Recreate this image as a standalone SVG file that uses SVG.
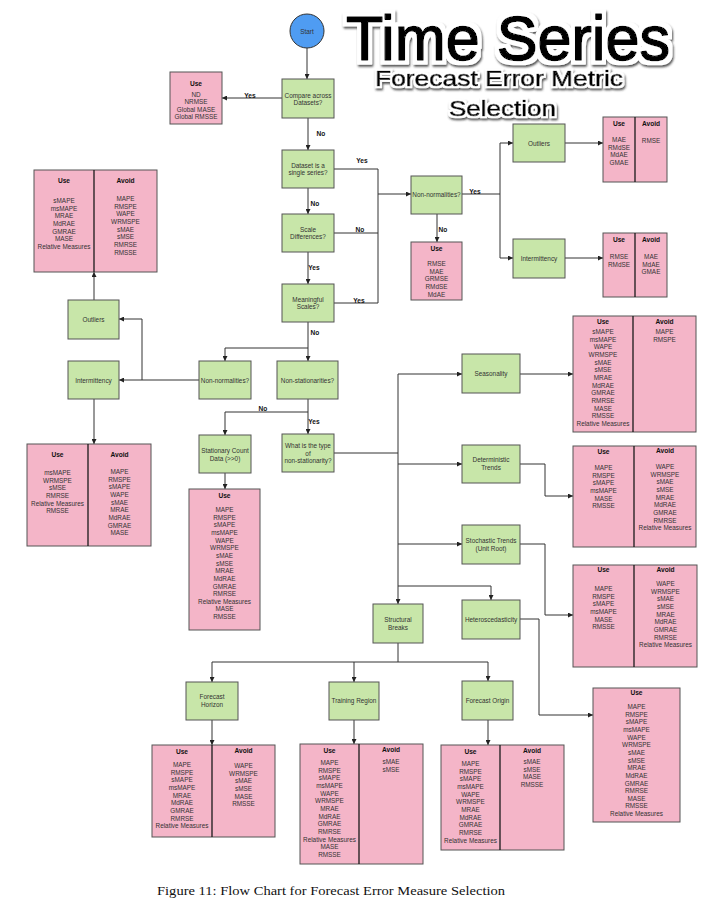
<svg xmlns="http://www.w3.org/2000/svg" width="714" height="904" viewBox="0 0 714 904">
<style>
text{font-family:"Liberation Sans",Arial,sans-serif}
.n{fill:#c8e6a9;stroke:#555;stroke-width:1}
.p{fill:#f4b5c8;stroke:#555;stroke-width:1}
.d{stroke:#1a1a1a;stroke-width:1.3}
.t{font-size:6.4px;fill:#333;text-anchor:middle;dominant-baseline:central}
.h{font-size:6.6px;font-weight:bold;fill:#111;text-anchor:middle;dominant-baseline:central}
.l{font-size:6.6px;font-weight:bold;fill:#111;text-anchor:middle;dominant-baseline:central}
.c path{fill:none;stroke:#333;stroke-width:1}
.a{marker-end:url(#ar)}
.tb{fill:#000;stroke:#000;stroke-width:1.6;stroke-linejoin:round}
.cap{font-family:"Liberation Serif","DejaVu Serif",serif;font-size:11.5px;fill:#111}
</style>
<defs>
<marker id="ar" markerWidth="6" markerHeight="5" refX="5" refY="2.5" orient="auto" markerUnits="userSpaceOnUse">
<path d="M0,0 L5,2.5 L0,5 Z" fill="#222"/>
</marker>
<filter id="ol" x="-10%" y="-30%" width="120%" height="170%">
<feMorphology in="SourceAlpha" operator="dilate" radius="3.5" result="d"/>
<feGaussianBlur in="d" stdDeviation="1.3" result="b"/>
<feOffset in="b" dx="1" dy="2" result="o"/>
<feFlood flood-color="#333" flood-opacity="0.85"/>
<feComposite in2="o" operator="in" result="s"/>
<feFlood flood-color="#fff"/>
<feComposite in2="d" operator="in" result="w"/>
<feMerge><feMergeNode in="s"/><feMergeNode in="w"/><feMergeNode in="SourceGraphic"/></feMerge>
</filter>
<filter id="ol2" x="-10%" y="-40%" width="120%" height="190%">
<feMorphology in="SourceAlpha" operator="dilate" radius="2.4" result="d"/>
<feGaussianBlur in="d" stdDeviation="1" result="b"/>
<feOffset in="b" dx="0.8" dy="1.5" result="o"/>
<feFlood flood-color="#333" flood-opacity="0.85"/>
<feComposite in2="o" operator="in" result="s"/>
<feFlood flood-color="#fff"/>
<feComposite in2="d" operator="in" result="w"/>
<feMerge><feMergeNode in="s"/><feMergeNode in="w"/><feMergeNode in="SourceGraphic"/></feMerge>
</filter>
</defs>
<rect width="714" height="904" fill="#fff"/>

<g id="connectors" class="c">
<path class="a" d="M307 48 V79"/>
<path class="a" d="M282 98 H222"/>
<path class="a" d="M308 118 V150"/>
<path class="a" d="M308 188 V214"/>
<path class="a" d="M308 252 V284"/>
<path d="M334 169 H378 V303 H334"/>
<path d="M334 233 H378"/>
<path class="a" d="M378 194 H411"/>
<path d="M462 194 H500 M500 143 V258"/>
<path class="a" d="M500 143 H513"/>
<path class="a" d="M500 258 H513"/>
<path class="a" d="M437 214 V242"/>
<path class="a" d="M565 143 H603"/>
<path class="a" d="M565 258 H603"/>
<path class="a" d="M308 322 V361"/>
<path class="a" d="M308 348 H225 V361"/>
<path class="a" d="M199 380 H119"/>
<path class="a" d="M142 380 V319 H119"/>
<path class="a" d="M94 300 V272"/>
<path class="a" d="M94 399 V444"/>
<path class="a" d="M308 399 V434"/>
<path class="a" d="M308 412 H225 V435"/>
<path class="a" d="M225 473 V489"/>
<path d="M334 453 H398"/>
<path class="a" d="M398 374 V604"/>
<path class="a" d="M398 374 H462"/>
<path class="a" d="M398 464 H462"/>
<path class="a" d="M398 544 H462"/>
<path class="a" d="M398 586 H491 V600"/>
<path class="a" d="M520 374 H573"/>
<path class="a" d="M520 464 H545 V496 H573"/>
<path class="a" d="M520 544 H545 V615 H573"/>
<path class="a" d="M520 619 H539 V715 H593"/>
<path d="M398 643 V662 M212 662 H488"/>
<path class="a" d="M212 662 V682"/>
<path class="a" d="M354 662 V682"/>
<path class="a" d="M488 662 V681"/>
<path class="a" d="M212 720 V745"/>
<path class="a" d="M354 720 V744"/>
<path class="a" d="M488 720 V745"/>
</g>

<g id="labels">
<text class="l" x="250" y="95">Yes</text>
<text class="l" x="321" y="133">No</text>
<text class="l" x="362" y="160">Yes</text>
<text class="l" x="315" y="203">No</text>
<text class="l" x="360" y="229">No</text>
<text class="l" x="314" y="267">Yes</text>
<text class="l" x="359" y="300">Yes</text>
<text class="l" x="475" y="191">Yes</text>
<text class="l" x="443" y="229">No</text>
<text class="l" x="315" y="332">No</text>
<text class="l" x="263" y="408">No</text>
<text class="l" x="314" y="421">Yes</text>
</g>

<g id="start"><circle cx="307" cy="31" r="17" fill="#4f9cf2" stroke="#333" stroke-width="1"/><text class="t" x="307" y="31">Start</text></g>

<g id="compare"><rect class="n" x="282" y="79" width="52" height="39"/><text class="t"><tspan x="308" y="94.5">Compare across</tspan><tspan x="308" y="102">Datasets?</tspan></text></g>
<g id="use-nd"><rect class="p" x="170" y="72" width="52" height="52"/><text class="h" x="196" y="83">Use</text><text class="t"><tspan x="196" y="93.5">ND</tspan><tspan x="196" dy="7.65">NRMSE</tspan><tspan x="196" dy="7.65">Global MASE</tspan><tspan x="196" dy="7.65">Global RMSSE</tspan></text></g>

<g id="single"><rect class="n" x="282" y="150" width="52" height="38"/><text class="t"><tspan x="308" y="164.5">Dataset is a</tspan><tspan x="308" y="172">single series?</tspan></text></g>
<g id="scale"><rect class="n" x="282" y="214" width="52" height="38"/><text class="t"><tspan x="308" y="228.5">Scale</tspan><tspan x="308" y="236">Differences?</tspan></text></g>
<g id="meaningful"><rect class="n" x="282" y="284" width="52" height="38"/><text class="t"><tspan x="308" y="298.5">Meaningful</tspan><tspan x="308" y="306">Scales?</tspan></text></g>

<g id="nonnorm-top"><rect class="n" x="411" y="176" width="51" height="38"/><text class="t" x="436.5" y="194">Non-normalities?</text></g>
<g id="use-nonnorm"><rect class="p" x="411" y="242" width="51" height="58"/><text class="h" x="436.5" y="248">Use</text><text class="t"><tspan x="436.5" y="263">RMSE</tspan><tspan x="436.5" dy="7.65">MAE</tspan><tspan x="436.5" dy="7.65">GRMSE</tspan><tspan x="436.5" dy="7.65">RMdSE</tspan><tspan x="436.5" dy="7.65">MdAE</tspan></text></g>

<g id="outliers-r"><rect class="n" x="513" y="124" width="52" height="38"/><text class="t" x="539" y="143">Outliers</text></g>
<g id="ua-outliers-r"><rect class="p" x="603" y="117" width="64" height="65"/><line class="d" x1="635" y1="117" x2="635" y2="182"/><text class="h" x="619" y="123">Use</text><text class="h" x="651" y="123">Avoid</text><text class="t"><tspan x="619" y="139">MAE</tspan><tspan x="619" dy="7.65">RMdSE</tspan><tspan x="619" dy="7.65">MdAE</tspan><tspan x="619" dy="7.65">GMAE</tspan></text><text class="t" x="651" y="140.5">RMSE</text></g>

<g id="intermittency-r"><rect class="n" x="513" y="239" width="52" height="39"/><text class="t" x="539" y="258">Intermittency</text></g>
<g id="ua-intermittency-r"><rect class="p" x="603" y="233" width="64" height="64"/><line class="d" x1="635" y1="233" x2="635" y2="297"/><text class="h" x="619" y="239">Use</text><text class="h" x="651" y="239">Avoid</text><text class="t"><tspan x="619" y="256">RMSE</tspan><tspan x="619" dy="7.65">RMdSE</tspan></text><text class="t"><tspan x="651" y="256">MAE</tspan><tspan x="651" dy="7.65">MdAE</tspan><tspan x="651" dy="7.65">GMAE</tspan></text></g>

<g id="ua-outliers-l"><rect class="p" x="34" y="170" width="123" height="102"/><line class="d" x1="94" y1="170" x2="94" y2="272"/><text class="h" x="64" y="180">Use</text><text class="h" x="125.5" y="180">Avoid</text><text class="t"><tspan x="64" y="200">sMAPE</tspan><tspan x="64" dy="7.65">msMAPE</tspan><tspan x="64" dy="7.65">MRAE</tspan><tspan x="64" dy="7.65">MdRAE</tspan><tspan x="64" dy="7.65">GMRAE</tspan><tspan x="64" dy="7.65">MASE</tspan><tspan x="64" dy="7.65">Relative Measures</tspan></text><text class="t"><tspan x="125.5" y="198">MAPE</tspan><tspan x="125.5" dy="7.65">RMSPE</tspan><tspan x="125.5" dy="7.65">WAPE</tspan><tspan x="125.5" dy="7.65">WRMSPE</tspan><tspan x="125.5" dy="7.65">sMAE</tspan><tspan x="125.5" dy="7.65">sMSE</tspan><tspan x="125.5" dy="7.65">RMRSE</tspan><tspan x="125.5" dy="7.65">RMSSE</tspan></text></g>

<g id="outliers-l"><rect class="n" x="68" y="300" width="51" height="39"/><text class="t" x="93.5" y="319">Outliers</text></g>
<g id="intermittency-l"><rect class="n" x="68" y="361" width="51" height="38"/><text class="t" x="93.5" y="380">Intermittency</text></g>
<g id="nonnorm-mid"><rect class="n" x="199" y="361" width="52" height="38"/><text class="t" x="225" y="380">Non-normalities?</text></g>
<g id="nonstat"><rect class="n" x="277" y="361" width="61" height="38"/><text class="t" x="307.5" y="380">Non-stationarities?</text></g>

<g id="ua-intermittency-l"><rect class="p" x="27" y="444" width="124" height="102"/><line class="d" x1="88" y1="444" x2="88" y2="546"/><text class="h" x="57.5" y="454">Use</text><text class="h" x="119.5" y="454">Avoid</text><text class="t"><tspan x="57.5" y="472">msMAPE</tspan><tspan x="57.5" dy="7.65">WRMSPE</tspan><tspan x="57.5" dy="7.65">sMSE</tspan><tspan x="57.5" dy="7.65">RMRSE</tspan><tspan x="57.5" dy="7.65">Relative Measures</tspan><tspan x="57.5" dy="7.65">RMSSE</tspan></text><text class="t"><tspan x="119.5" y="471">MAPE</tspan><tspan x="119.5" dy="7.65">RMSPE</tspan><tspan x="119.5" dy="7.65">sMAPE</tspan><tspan x="119.5" dy="7.65">WAPE</tspan><tspan x="119.5" dy="7.65">sMAE</tspan><tspan x="119.5" dy="7.65">MRAE</tspan><tspan x="119.5" dy="7.65">MdRAE</tspan><tspan x="119.5" dy="7.65">GMRAE</tspan><tspan x="119.5" dy="7.65">MASE</tspan></text></g>

<g id="stationary"><rect class="n" x="199" y="435" width="52" height="38"/><text class="t"><tspan x="225" y="450">Stationary Count</tspan><tspan x="225" y="457.5">Data (&gt;&gt;0)</tspan></text></g>
<g id="use-stationary"><rect class="p" x="189" y="489" width="71" height="141"/><text class="h" x="224.5" y="495">Use</text><text class="t"><tspan x="224.5" y="509">MAPE</tspan><tspan x="224.5" dy="7.65">RMSPE</tspan><tspan x="224.5" dy="7.65">sMAPE</tspan><tspan x="224.5" dy="7.65">msMAPE</tspan><tspan x="224.5" dy="7.65">WAPE</tspan><tspan x="224.5" dy="7.65">WRMSPE</tspan><tspan x="224.5" dy="7.65">sMAE</tspan><tspan x="224.5" dy="7.65">sMSE</tspan><tspan x="224.5" dy="7.65">MRAE</tspan><tspan x="224.5" dy="7.65">MdRAE</tspan><tspan x="224.5" dy="7.65">GMRAE</tspan><tspan x="224.5" dy="7.65">RMRSE</tspan><tspan x="224.5" dy="7.65">Relative Measures</tspan><tspan x="224.5" dy="7.65">MASE</tspan><tspan x="224.5" dy="7.65">RMSSE</tspan></text></g>

<g id="type"><rect class="n" x="282" y="434" width="52" height="38"/><text class="t"><tspan x="308" y="445">What is the type</tspan><tspan x="308" y="452.7">of</tspan><tspan x="308" y="460.4">non-stationarity?</tspan></text></g>

<g id="seasonality"><rect class="n" x="462" y="354" width="58" height="39"/><text class="t" x="491" y="373">Seasonality</text></g>
<g id="ua-seasonality"><rect class="p" x="573" y="316" width="123" height="116"/><line class="d" x1="633" y1="316" x2="633" y2="432"/><text class="h" x="603" y="321">Use</text><text class="h" x="664.5" y="321">Avoid</text><text class="t"><tspan x="603" y="331">sMAPE</tspan><tspan x="603" dy="7.65">msMAPE</tspan><tspan x="603" dy="7.65">WAPE</tspan><tspan x="603" dy="7.65">WRMSPE</tspan><tspan x="603" dy="7.65">sMAE</tspan><tspan x="603" dy="7.65">sMSE</tspan><tspan x="603" dy="7.65">MRAE</tspan><tspan x="603" dy="7.65">MdRAE</tspan><tspan x="603" dy="7.65">GMRAE</tspan><tspan x="603" dy="7.65">RMRSE</tspan><tspan x="603" dy="7.65">MASE</tspan><tspan x="603" dy="7.65">RMSSE</tspan><tspan x="603" dy="7.65">Relative Measures</tspan></text><text class="t"><tspan x="664.5" y="331">MAPE</tspan><tspan x="664.5" dy="7.65">RMSPE</tspan></text></g>

<g id="deterministic"><rect class="n" x="462" y="445" width="58" height="38"/><text class="t"><tspan x="491" y="459">Deterministic</tspan><tspan x="491" y="466.7">Trends</tspan></text></g>
<g id="ua-deterministic"><rect class="p" x="573" y="446" width="123" height="101"/><line class="d" x1="634" y1="446" x2="634" y2="547"/><text class="h" x="603.5" y="451">Use</text><text class="h" x="665" y="450">Avoid</text><text class="t"><tspan x="603.5" y="467">MAPE</tspan><tspan x="603.5" dy="7.65">RMSPE</tspan><tspan x="603.5" dy="7.65">sMAPE</tspan><tspan x="603.5" dy="7.65">msMAPE</tspan><tspan x="603.5" dy="7.65">MASE</tspan><tspan x="603.5" dy="7.65">RMSSE</tspan></text><text class="t"><tspan x="665" y="466">WAPE</tspan><tspan x="665" dy="7.65">WRMSPE</tspan><tspan x="665" dy="7.65">sMAE</tspan><tspan x="665" dy="7.65">sMSE</tspan><tspan x="665" dy="7.65">MRAE</tspan><tspan x="665" dy="7.65">MdRAE</tspan><tspan x="665" dy="7.65">GMRAE</tspan><tspan x="665" dy="7.65">RMRSE</tspan><tspan x="665" dy="7.65">Relative Measures</tspan></text></g>

<g id="stochastic"><rect class="n" x="462" y="525" width="58" height="39"/><text class="t"><tspan x="491" y="540">Stochastic Trends</tspan><tspan x="491" y="547.7">(Unit Root)</tspan></text></g>
<g id="ua-stochastic"><rect class="p" x="573" y="565" width="124" height="102"/><line class="d" x1="634" y1="565" x2="634" y2="667"/><text class="h" x="603.5" y="569">Use</text><text class="h" x="665.5" y="569">Avoid</text><text class="t"><tspan x="603.5" y="588">MAPE</tspan><tspan x="603.5" dy="7.65">RMSPE</tspan><tspan x="603.5" dy="7.65">sMAPE</tspan><tspan x="603.5" dy="7.65">msMAPE</tspan><tspan x="603.5" dy="7.65">MASE</tspan><tspan x="603.5" dy="7.65">RMSSE</tspan></text><text class="t"><tspan x="665.5" y="583">WAPE</tspan><tspan x="665.5" dy="7.65">WRMSPE</tspan><tspan x="665.5" dy="7.65">sMAE</tspan><tspan x="665.5" dy="7.65">sMSE</tspan><tspan x="665.5" dy="7.65">MRAE</tspan><tspan x="665.5" dy="7.65">MdRAE</tspan><tspan x="665.5" dy="7.65">GMRAE</tspan><tspan x="665.5" dy="7.65">RMRSE</tspan><tspan x="665.5" dy="7.65">Relative Measures</tspan></text></g>

<g id="structural"><rect class="n" x="373" y="604" width="50" height="39"/><text class="t"><tspan x="398" y="619.3">Structural</tspan><tspan x="398" y="627">Breaks</tspan></text></g>
<g id="hetero"><rect class="n" x="462" y="600" width="58" height="39"/><text class="t" x="491" y="619">Heteroscedasticity</text></g>
<g id="use-hetero"><rect class="p" x="593" y="688" width="87" height="134"/><text class="h" x="636.5" y="692.5">Use</text><text class="t"><tspan x="636.5" y="706">MAPE</tspan><tspan x="636.5" dy="7.65">RMSPE</tspan><tspan x="636.5" dy="7.65">sMAPE</tspan><tspan x="636.5" dy="7.65">msMAPE</tspan><tspan x="636.5" dy="7.65">WAPE</tspan><tspan x="636.5" dy="7.65">WRMSPE</tspan><tspan x="636.5" dy="7.65">sMAE</tspan><tspan x="636.5" dy="7.65">sMSE</tspan><tspan x="636.5" dy="7.65">MRAE</tspan><tspan x="636.5" dy="7.65">MdRAE</tspan><tspan x="636.5" dy="7.65">GMRAE</tspan><tspan x="636.5" dy="7.65">RMRSE</tspan><tspan x="636.5" dy="7.65">MASE</tspan><tspan x="636.5" dy="7.65">RMSSE</tspan><tspan x="636.5" dy="7.65">Relative Measures</tspan></text></g>

<g id="horizon"><rect class="n" x="186" y="682" width="52" height="38"/><text class="t"><tspan x="212" y="696">Forecast</tspan><tspan x="212" y="703.5">Horizon</tspan></text></g>
<g id="training"><rect class="n" x="329" y="682" width="50" height="38"/><text class="t" x="354" y="700">Training Region</text></g>
<g id="origin"><rect class="n" x="462" y="681" width="51" height="39"/><text class="t" x="487.5" y="700">Forecast Origin</text></g>

<g id="ua-horizon"><rect class="p" x="152" y="745" width="123" height="92"/><line class="d" x1="212" y1="745" x2="212" y2="837"/><text class="h" x="182" y="751">Use</text><text class="h" x="243.5" y="750">Avoid</text><text class="t"><tspan x="182" y="764">MAPE</tspan><tspan x="182" dy="7.65">RMSPE</tspan><tspan x="182" dy="7.65">sMAPE</tspan><tspan x="182" dy="7.65">msMAPE</tspan><tspan x="182" dy="7.65">MRAE</tspan><tspan x="182" dy="7.65">MdRAE</tspan><tspan x="182" dy="7.65">GMRAE</tspan><tspan x="182" dy="7.65">RMRSE</tspan><tspan x="182" dy="7.65">Relative Measures</tspan></text><text class="t"><tspan x="243.5" y="765">WAPE</tspan><tspan x="243.5" dy="7.65">WRMSPE</tspan><tspan x="243.5" dy="7.65">sMAE</tspan><tspan x="243.5" dy="7.65">sMSE</tspan><tspan x="243.5" dy="7.65">MASE</tspan><tspan x="243.5" dy="7.65">RMSSE</tspan></text></g>

<g id="ua-training"><rect class="p" x="300" y="744" width="123" height="120"/><line class="d" x1="359" y1="744" x2="359" y2="864"/><text class="h" x="329.5" y="750">Use</text><text class="h" x="391" y="749">Avoid</text><text class="t"><tspan x="329.5" y="762">MAPE</tspan><tspan x="329.5" dy="7.65">RMSPE</tspan><tspan x="329.5" dy="7.65">sMAPE</tspan><tspan x="329.5" dy="7.65">msMAPE</tspan><tspan x="329.5" dy="7.65">WAPE</tspan><tspan x="329.5" dy="7.65">WRMSPE</tspan><tspan x="329.5" dy="7.65">MRAE</tspan><tspan x="329.5" dy="7.65">MdRAE</tspan><tspan x="329.5" dy="7.65">GMRAE</tspan><tspan x="329.5" dy="7.65">RMRSE</tspan><tspan x="329.5" dy="7.65">Relative Measures</tspan><tspan x="329.5" dy="7.65">MASE</tspan><tspan x="329.5" dy="7.65">RMSSE</tspan></text><text class="t"><tspan x="391" y="761">sMAE</tspan><tspan x="391" dy="7.65">sMSE</tspan></text></g>

<g id="ua-origin"><rect class="p" x="441" y="745" width="123" height="105"/><line class="d" x1="500" y1="745" x2="500" y2="850"/><text class="h" x="470.5" y="751">Use</text><text class="h" x="532" y="750">Avoid</text><text class="t"><tspan x="470.5" y="763">MAPE</tspan><tspan x="470.5" dy="7.65">RMSPE</tspan><tspan x="470.5" dy="7.65">sMAPE</tspan><tspan x="470.5" dy="7.65">msMAPE</tspan><tspan x="470.5" dy="7.65">WAPE</tspan><tspan x="470.5" dy="7.65">WRMSPE</tspan><tspan x="470.5" dy="7.65">MRAE</tspan><tspan x="470.5" dy="7.65">MdRAE</tspan><tspan x="470.5" dy="7.65">GMRAE</tspan><tspan x="470.5" dy="7.65">RMRSE</tspan><tspan x="470.5" dy="7.65">Relative Measures</tspan></text><text class="t"><tspan x="532" y="761">sMAE</tspan><tspan x="532" dy="7.65">sMSE</tspan><tspan x="532" dy="7.65">MASE</tspan><tspan x="532" dy="7.65">RMSSE</tspan></text></g>

<g id="title">
<text class="tb" x="346" y="60" font-size="63" textLength="324" lengthAdjust="spacingAndGlyphs" filter="url(#ol)">Time Series</text>
<text class="tb" x="375" y="86" font-size="22" textLength="248" lengthAdjust="spacingAndGlyphs" style="stroke-width:0.7" filter="url(#ol2)">Forecast Error Metric</text>
<text class="tb" x="449" y="116" font-size="22" textLength="107" lengthAdjust="spacingAndGlyphs" style="stroke-width:0.7" filter="url(#ol2)">Selection</text>
</g>

<text class="cap" x="157" y="895" textLength="348" lengthAdjust="spacingAndGlyphs">Figure 11: Flow Chart for Forecast Error Measure Selection</text>
</svg>
